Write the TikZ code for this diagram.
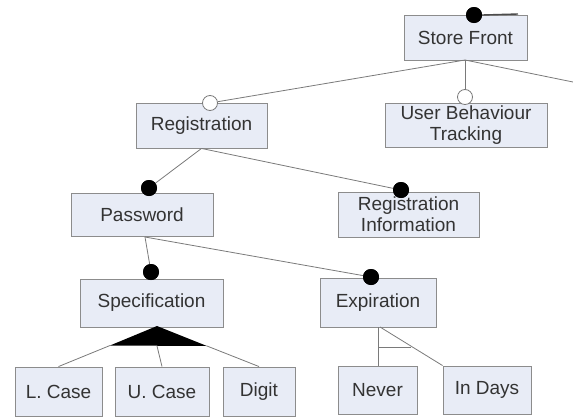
\documentclass[tikz,border=0pt]{standalone}
\usepackage{fontspec}
\setmainfont{Liberation Sans}
\definecolor{boxfill}{HTML}{E8ECF6}
\definecolor{boxline}{HTML}{8C8C8C}
\definecolor{txt}{HTML}{333333}
\definecolor{wire}{HTML}{7A7A7A}
\begin{document}
\begin{tikzpicture}[x=1pt,y=-1pt,
  feat/.style={draw=boxline,fill=boxfill,line width=0.9pt,text=txt,inner sep=0pt,
    font=\fontsize{19}{21}\selectfont,align=center},
  wireline/.style={draw=wire,line width=0.8pt},
  mand/.style={circle,fill=black,inner sep=0pt,minimum size=16pt},
  opt/.style={circle,draw=wire,fill=white,line width=0.8pt,inner sep=0pt,minimum size=15pt}]
\useasboundingbox (0,0) rectangle (573,418);
% nodes
\node[feat,minimum width=123pt,minimum height=45pt] (sf) at (465.5,37.5) {Store Front};
\node[feat,minimum width=162pt,minimum height=44pt] (ubt) at (466,125) {User Behaviour\\Tracking};
\node[feat,minimum width=131pt,minimum height=45pt] (reg) at (201.5,125.5) {Registration};
\node[feat,minimum width=142pt,minimum height=43pt] (pw) at (142,214.5) {Password};
\node[feat,minimum width=141pt,minimum height=45pt] (ri) at (408.5,214.5) {Registration\\Information};
\node[feat,minimum width=143pt,minimum height=48pt] (spec) at (151.5,303) {Specification};
\node[feat,minimum width=116pt,minimum height=49pt] (exp) at (378,302.5) {Expiration};
\node[feat,minimum width=87pt,minimum height=49pt] (lc) at (58.5,391.5) {L. Case};
\node[feat,minimum width=94pt,minimum height=49pt] (uc) at (162,391.5) {U. Case};
\node[feat,minimum width=72pt,minimum height=49pt] (dig) at (259,391.5) {Digit};
\node[feat,minimum width=79pt,minimum height=48pt] (nev) at (377.5,390) {Never};
\node[feat,minimum width=88pt,minimum height=48pt] (ind) at (487,390) {In Days};
% helper coordinates
\coordinate (sfb) at (465,60);
\coordinate (sfin) at (518,14);
\coordinate (offr) at (573,82);
\coordinate (pwb) at (145,237);
\coordinate (tapex) at (157,326);
\coordinate (tl) at (110,345.5);
\coordinate (tm) at (157,346);
\coordinate (tr) at (207,346);
\coordinate (expb1) at (378,327);
\coordinate (expb2) at (380,327);
\coordinate (alt1) at (378,347);
\coordinate (alt2) at (411,347);
% connector ends (markers)
\node[mand] (sfd) at (474,15) {};
\node[opt] (regc) at (210,103) {};
\node[opt] (ubtc) at (465,97) {};
\node[mand] (pwd) at (149,188) {};
\node[mand] (rid) at (401,190) {};
\node[mand] (specd) at (151,272) {};
\node[mand] (expd) at (371,277) {};
% connectors
\draw[wireline,line width=1.4pt,draw=black!70] (sfd.east) -- (sfin);
\draw[wireline] (sfb) -- (regc);
\draw[wireline] (sfb) -- (ubtc);
\draw[wireline] (sfb) -- (offr);
\draw[wireline] (reg.south) -- (pwd);
\draw[wireline] (reg.south) -- (rid);
\draw[wireline] (pwb) -- (specd);
\draw[wireline] (pwb) -- (expd);
\fill[black] (tapex) -- (tr) -- (tl) -- cycle;
\draw[wireline] (tl) -- (lc.north);
\draw[wireline] (tm) -- (uc.north);
\draw[wireline] (tr) -- (dig.north);
\draw[wireline] (expb1) -- (expb1 |- nev.north);
\draw[wireline] (expb2) -- (ind.north west);
\draw[wireline] (alt1) -- (alt2);
% redraw markers on top
\node[mand] at (sfd) {};
\node[mand] at (pwd) {};
\node[mand] at (rid) {};
\node[mand] at (specd) {};
\node[mand] at (expd) {};
\end{tikzpicture}
\end{document}
